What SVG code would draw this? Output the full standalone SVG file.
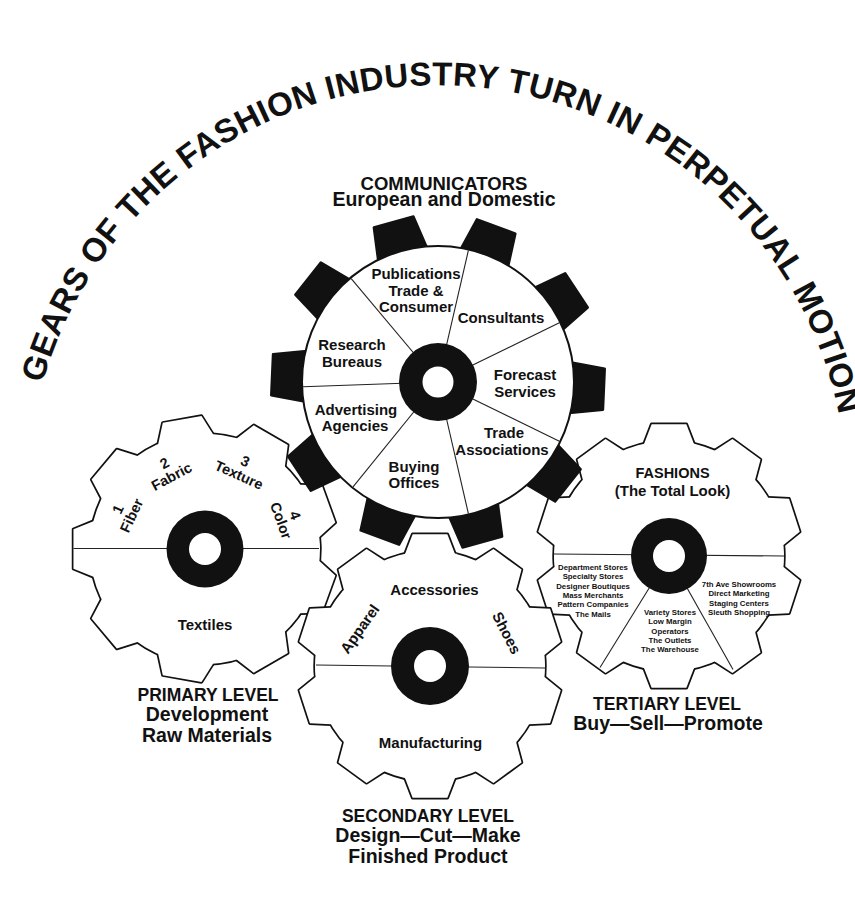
<svg xmlns="http://www.w3.org/2000/svg" xmlns:xlink="http://www.w3.org/1999/xlink" width="855" height="900" viewBox="0 0 855 900">
  <style>
    .t { font-family: "Liberation Sans", Arial, "Helvetica", sans-serif; font-weight: bold; fill: #111; text-anchor: middle; }
    .title { font-size: 33px; letter-spacing: 0.4px; text-anchor: start; }
    .lab { font-size: 15px; }
    .sm-lab { font-size: 14.5px; }
    .caps { font-size: 17.5px; }
    .sub { font-size: 19.5px; }
    .tiny { font-size: 7.8px; }
    .gear-edge { fill: #fff; stroke: #111; stroke-width: 3.4; stroke-linejoin: round; }
    .gear-face { fill: #fff; stroke: none; }
    .rule { stroke: #222; stroke-width: 1.1; fill: none; }
    .hub { fill: #111; }
    .hole { fill: #fff; }
    .ctooth { fill: #111; stroke: #111; stroke-width: 2.5; stroke-linejoin: round; }
    .rim { fill: #fff; stroke: #111; stroke-width: 2; }
  </style>
  <defs>
    <!-- nine-tooth gear, tip radius 133, root radius 115, tooth on +x axis -->
    <polygon id="t9" points="100,-27.82 111.58,-27.82 131.54,-19.66 131.54,19.66 111.58,27.82 100,27.82"/>
    <g id="gear9">
      <circle r="115"/>
      <use href="#t9"/>
      <use href="#t9" transform="rotate(40)"/>
      <use href="#t9" transform="rotate(80)"/>
      <use href="#t9" transform="rotate(120)"/>
      <use href="#t9" transform="rotate(160)"/>
      <use href="#t9" transform="rotate(200)"/>
      <use href="#t9" transform="rotate(240)"/>
      <use href="#t9" transform="rotate(280)"/>
      <use href="#t9" transform="rotate(320)"/>
    </g>
    <!-- ten-tooth gear, tip radius 133, root radius 115 -->
    <polygon id="t10" points="100,-24.89 112.27,-24.89 131.86,-17.36 131.86,17.36 112.27,24.89 100,24.89"/>
    <g id="gear10">
      <circle r="115"/>
      <use href="#t10"/>
      <use href="#t10" transform="rotate(36)"/>
      <use href="#t10" transform="rotate(72)"/>
      <use href="#t10" transform="rotate(108)"/>
      <use href="#t10" transform="rotate(144)"/>
      <use href="#t10" transform="rotate(180)"/>
      <use href="#t10" transform="rotate(216)"/>
      <use href="#t10" transform="rotate(252)"/>
      <use href="#t10" transform="rotate(288)"/>
      <use href="#t10" transform="rotate(324)"/>
    </g>
    <!-- solid tooth of the central gear -->
    <polygon id="ct" class="ctooth" points="127,-26 166,-20.5 166,20.5 127,26"/>
    <path id="titleArc" d="M 36 409.8 A 410 410 0 0 1 838 409.8" fill="none"/>
  </defs>

  <rect width="855" height="900" fill="#fff"/>

  <!-- headline along the arc -->
  <g id="title">
    <text class="t title"><textPath href="#titleArc" startOffset="27">GEARS OF THE FASHION INDUSTRY TURN IN PERPETUAL MOTION</textPath></text>
  </g>

  <!-- primary level gear -->
  <g id="primary-gear">
    <use href="#gear9" class="gear-edge" transform="translate(205 549) rotate(20)"/>
    <use href="#gear9" class="gear-face" transform="translate(205 549) rotate(20)"/>
    <line class="rule" x1="73.5" y1="548.5" x2="319" y2="548.5"/>
    <circle class="hub" cx="205" cy="549" r="38.5"/>
    <circle class="hole" cx="205" cy="549" r="16"/>
    <g transform="translate(131.5 515.5) rotate(-65)">
      <text class="t sm-lab" y="-10">1</text>
      <text class="t sm-lab" y="5">Fiber</text>
    </g>
    <g transform="translate(171.5 476.5) rotate(-28)">
      <text class="t sm-lab" y="-10">2</text>
      <text class="t sm-lab" y="5">Fabric</text>
    </g>
    <g transform="translate(239 475) rotate(24)">
      <text class="t sm-lab" y="-10">3</text>
      <text class="t sm-lab" y="5">Texture</text>
    </g>
    <g transform="translate(281 520.5) rotate(70)">
      <text class="t sm-lab" y="-10">4</text>
      <text class="t sm-lab" y="5">Color</text>
    </g>
    <text class="t lab" x="205" y="630">Textiles</text>
  </g>

  <!-- tertiary level gear -->
  <g id="tertiary-gear">
    <use href="#gear10" class="gear-edge" transform="translate(669 556) rotate(18)"/>
    <use href="#gear10" class="gear-face" transform="translate(669 556) rotate(18)"/>
    <line class="rule" x1="554" y1="554" x2="669" y2="555"/>
    <line class="rule" x1="669" y1="555" x2="784" y2="556"/>
    <line class="rule" x1="669" y1="556" x2="600" y2="667.5"/>
    <line class="rule" x1="669" y1="556" x2="733" y2="669.5"/>
    <circle class="hub" cx="669" cy="556" r="38"/>
    <circle class="hole" cx="669" cy="556" r="16"/>
    <text class="t sm-lab" x="672.5" y="478">FASHIONS</text>
    <text class="t lab" x="672.5" y="496">(The Total Look)</text>
    <g class="t tiny">
      <text x="593" y="570">Department Stores</text>
      <text x="593" y="579.3">Specialty Stores</text>
      <text x="593" y="588.6">Designer Boutiques</text>
      <text x="593" y="598">Mass Merchants</text>
      <text x="593" y="607.3">Pattern Companies</text>
      <text x="593" y="616.6">The Mails</text>
      <text x="670" y="615">Variety Stores</text>
      <text x="670" y="624.3">Low Margin</text>
      <text x="670" y="633.6">Operators</text>
      <text x="670" y="643">The Outlets</text>
      <text x="670" y="652.3">The Warehouse</text>
      <text x="739" y="587">7th Ave Showrooms</text>
      <text x="739" y="596.3">Direct Marketing</text>
      <text x="739" y="605.6">Staging Centers</text>
      <text x="739" y="615">Sleuth Shopping</text>
    </g>
  </g>

  <!-- secondary level gear -->
  <g id="secondary-gear">
    <use href="#gear10" class="gear-edge" transform="translate(430 666) rotate(18)"/>
    <use href="#gear10" class="gear-face" transform="translate(430 666) rotate(18)"/>
    <line class="rule" x1="316" y1="665" x2="430" y2="666.5"/>
    <line class="rule" x1="430" y1="666.5" x2="545" y2="668"/>
    <circle class="hub" cx="430" cy="666" r="39"/>
    <circle class="hole" cx="430" cy="666" r="16"/>
    <text class="t lab" x="434.5" y="595">Accessories</text>
    <text class="t lab" transform="translate(360 629) rotate(-55)" y="5">Apparel</text>
    <text class="t lab" transform="translate(506.5 633) rotate(63)" y="5">Shoes</text>
    <text class="t lab" x="430.5" y="748">Manufacturing</text>
  </g>

  <!-- communicators gear -->
  <g id="communicators-gear">
    <g transform="translate(438 382)">
      <use href="#ct" transform="rotate(-105.5)"/>
      <use href="#ct" transform="rotate(-69.5)"/>
      <use href="#ct" transform="rotate(-33.5)"/>
      <use href="#ct" transform="rotate(2.5)"/>
      <use href="#ct" transform="rotate(38.5)"/>
      <use href="#ct" transform="rotate(74.5)"/>
      <use href="#ct" transform="rotate(110.5)"/>
      <use href="#ct" transform="rotate(146.5)"/>
      <use href="#ct" transform="rotate(182.5)"/>
      <use href="#ct" transform="rotate(218.5)"/>
      <circle class="rim" r="136"/>
      <line class="rule" x2="135" transform="rotate(178)"/>
      <line class="rule" x2="135" transform="rotate(129)"/>
      <line class="rule" x2="135" transform="rotate(77)"/>
      <line class="rule" x2="135" transform="rotate(26)"/>
      <line class="rule" x2="135" transform="rotate(-26)"/>
      <line class="rule" x2="135" transform="rotate(-77)"/>
      <line class="rule" x2="135" transform="rotate(-130)"/>
      <circle class="hub" r="39"/>
      <circle class="hole" r="15.5"/>
    </g>
    <g class="t lab">
      <text x="416" y="279">Publications</text>
      <text x="416" y="296">Trade &amp;</text>
      <text x="416" y="312">Consumer</text>
      <text x="501" y="323">Consultants</text>
      <text x="352" y="350">Research</text>
      <text x="352" y="367">Bureaus</text>
      <text x="525" y="380">Forecast</text>
      <text x="525" y="397">Services</text>
      <text x="356" y="415">Advertising</text>
      <text x="355" y="431">Agencies</text>
      <text x="504" y="438">Trade</text>
      <text x="502" y="455">Associations</text>
      <text x="414" y="472">Buying</text>
      <text x="414" y="488">Offices</text>
    </g>
  </g>

  <!-- level captions -->
  <g id="communicators-caption">
    <text class="t" style="font-size:18.5px" x="444" y="190">COMMUNICATORS</text>
    <text class="t" style="font-size:19.5px" x="444" y="206">European and Domestic</text>
  </g>
  <g id="primary-caption">
    <text class="t caps" x="208" y="701">PRIMARY LEVEL</text>
    <text class="t sub" x="207" y="721">Development</text>
    <text class="t sub" x="207" y="742">Raw Materials</text>
  </g>
  <g id="tertiary-caption">
    <text class="t caps" x="667" y="710">TERTIARY LEVEL</text>
    <text class="t sub" x="668" y="730">Buy—Sell—Promote</text>
  </g>
  <g id="secondary-caption">
    <text class="t caps" x="428" y="822">SECONDARY LEVEL</text>
    <text class="t sub" x="428" y="842">Design—Cut—Make</text>
    <text class="t sub" x="428" y="863">Finished Product</text>
  </g>
</svg>
